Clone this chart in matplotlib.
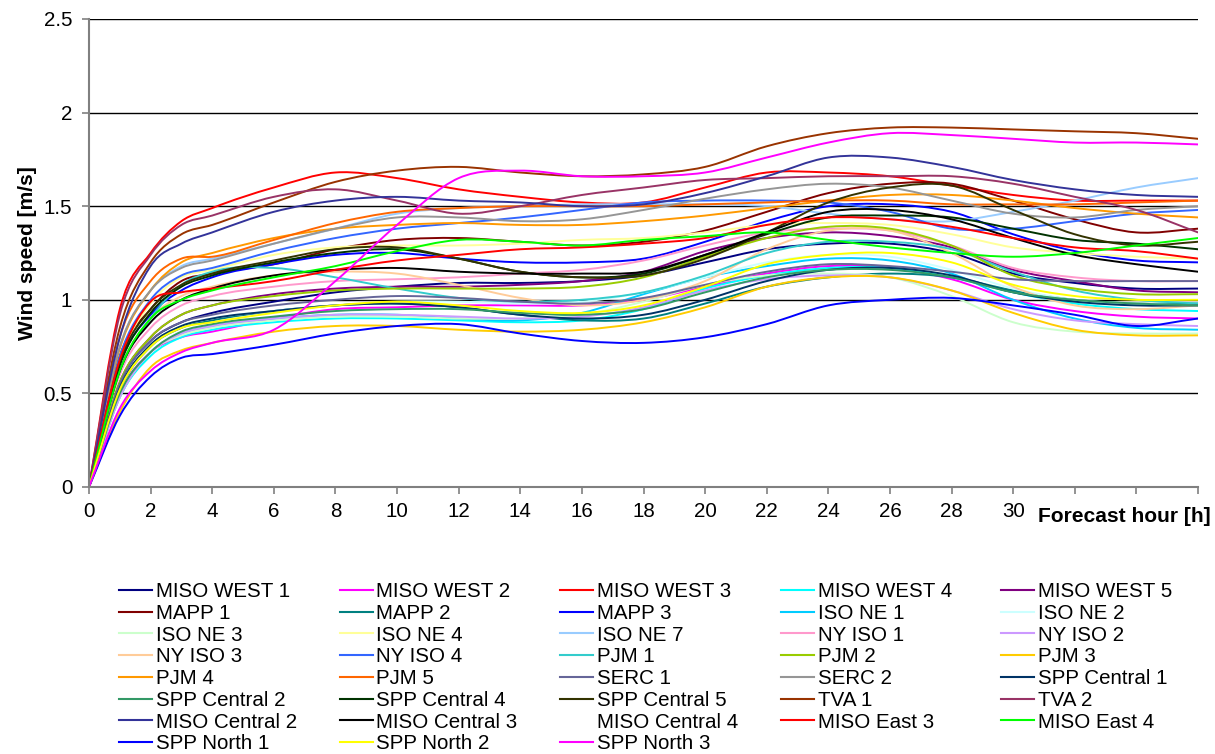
import numpy as np
import matplotlib
matplotlib.use('Agg')
import matplotlib.pyplot as plt
from matplotlib.path import Path
from matplotlib.patches import PathPatch
from matplotlib.lines import Line2D

plt.rcParams['font.family'] = ['Liberation Sans', 'DejaVu Sans']
plt.rcParams['font.size'] = 14.8

# forecast hours at which the mean wind speed is given
hours = [0, 1, 2, 3, 4, 6, 8, 10, 12, 14, 16, 18, 20, 22, 24, 26, 28, 30, 32, 34, 36]

miso_west_1 = [0, 0.55, 0.78, 0.88, 0.93, 0.99, 1.04, 1.07, 1.09, 1.09, 1.10, 1.13, 1.20, 1.27, 1.30, 1.30, 1.25, 1.14, 1.09, 1.06, 1.06]
miso_west_2 = [0, 0.50, 0.72, 0.80, 0.83, 0.90, 0.95, 0.96, 0.97, 0.97, 0.97, 1.00, 1.07, 1.14, 1.18, 1.17, 1.11, 1.00, 0.94, 0.91, 0.90]
miso_west_3 = [0, 0.95, 1.25, 1.42, 1.49, 1.60, 1.68, 1.65, 1.59, 1.55, 1.52, 1.52, 1.60, 1.68, 1.68, 1.66, 1.61, 1.56, 1.53, 1.53, 1.53]
miso_west_4 = [0, 0.48, 0.70, 0.80, 0.84, 0.88, 0.90, 0.90, 0.89, 0.88, 0.89, 0.95, 1.06, 1.13, 1.17, 1.17, 1.12, 1.04, 0.98, 0.95, 0.94]
miso_west_5 = [0, 0.56, 0.80, 0.92, 0.97, 1.03, 1.06, 1.07, 1.07, 1.08, 1.10, 1.15, 1.26, 1.33, 1.36, 1.34, 1.28, 1.16, 1.10, 1.05, 1.04]
mapp_1 = [0, 0.70, 0.95, 1.10, 1.14, 1.19, 1.27, 1.32, 1.33, 1.31, 1.29, 1.31, 1.37, 1.47, 1.57, 1.62, 1.62, 1.53, 1.43, 1.36, 1.38]
mapp_2 = [0, 0.52, 0.75, 0.85, 0.89, 0.94, 0.97, 0.98, 0.96, 0.92, 0.89, 0.90, 0.98, 1.07, 1.12, 1.14, 1.12, 1.05, 1.00, 0.98, 0.98]
mapp_3 = [0, 0.66, 0.92, 1.05, 1.12, 1.19, 1.24, 1.25, 1.22, 1.20, 1.20, 1.22, 1.31, 1.42, 1.50, 1.51, 1.47, 1.35, 1.26, 1.21, 1.20]
iso_ne_1 = [0, 0.48, 0.72, 0.82, 0.86, 0.90, 0.92, 0.92, 0.90, 0.89, 0.93, 1.03, 1.12, 1.18, 1.22, 1.21, 1.14, 1.00, 0.90, 0.85, 0.84]
iso_ne_2 = [0, 0.53, 0.76, 0.86, 0.90, 0.94, 0.97, 0.99, 0.99, 0.98, 0.99, 1.04, 1.12, 1.20, 1.24, 1.23, 1.16, 1.06, 1.00, 0.98, 0.97]
iso_ne_3 = [0, 0.48, 0.72, 0.81, 0.85, 0.89, 0.91, 0.91, 0.90, 0.90, 0.92, 0.99, 1.08, 1.13, 1.14, 1.12, 1.02, 0.88, 0.83, 0.82, 0.82]
iso_ne_4 = [0, 0.68, 0.98, 1.12, 1.16, 1.24, 1.28, 1.29, 1.29, 1.30, 1.32, 1.33, 1.36, 1.40, 1.41, 1.40, 1.35, 1.28, 1.25, 1.23, 1.22]
iso_ne_7 = [0, 0.75, 1.05, 1.18, 1.22, 1.30, 1.38, 1.46, 1.49, 1.50, 1.51, 1.51, 1.51, 1.50, 1.46, 1.43, 1.42, 1.47, 1.53, 1.60, 1.65]
ny_iso_1 = [0, 0.60, 0.85, 0.97, 1.02, 1.07, 1.10, 1.11, 1.12, 1.14, 1.16, 1.21, 1.29, 1.36, 1.38, 1.37, 1.29, 1.17, 1.12, 1.10, 1.10]
ny_iso_2 = [0, 0.48, 0.72, 0.82, 0.86, 0.90, 0.92, 0.92, 0.91, 0.90, 0.91, 0.96, 1.05, 1.11, 1.13, 1.12, 1.05, 0.95, 0.89, 0.87, 0.86]
ny_iso_3 = [0, 0.62, 0.90, 1.02, 1.07, 1.13, 1.15, 1.14, 1.08, 1.01, 0.97, 1.00, 1.10, 1.27, 1.37, 1.37, 1.25, 1.07, 0.97, 0.95, 0.97]
ny_iso_4 = [0, 0.70, 1.00, 1.13, 1.17, 1.26, 1.33, 1.38, 1.41, 1.44, 1.48, 1.52, 1.53, 1.53, 1.52, 1.47, 1.38, 1.38, 1.42, 1.46, 1.48]
pjm_1 = [0, 0.62, 0.90, 1.08, 1.15, 1.17, 1.12, 1.06, 1.01, 0.99, 1.00, 1.04, 1.13, 1.25, 1.31, 1.31, 1.27, 1.15, 1.05, 1.00, 0.98]
pjm_2 = [0, 0.56, 0.80, 0.92, 0.97, 1.02, 1.05, 1.06, 1.06, 1.06, 1.07, 1.12, 1.23, 1.33, 1.39, 1.38, 1.29, 1.13, 1.06, 1.03, 1.03]
pjm_3 = [0, 0.40, 0.64, 0.73, 0.77, 0.83, 0.86, 0.86, 0.84, 0.83, 0.84, 0.88, 0.96, 1.07, 1.12, 1.12, 1.05, 0.93, 0.84, 0.81, 0.81]
pjm_4 = [0, 0.74, 1.05, 1.20, 1.25, 1.33, 1.38, 1.40, 1.41, 1.40, 1.40, 1.42, 1.45, 1.49, 1.53, 1.56, 1.56, 1.53, 1.49, 1.46, 1.44]
pjm_5 = [0, 0.80, 1.10, 1.22, 1.23, 1.32, 1.41, 1.47, 1.49, 1.50, 1.50, 1.50, 1.51, 1.52, 1.53, 1.53, 1.51, 1.51, 1.51, 1.52, 1.53]
serc_1 = [0, 0.55, 0.78, 0.88, 0.92, 0.97, 1.00, 1.02, 1.01, 0.99, 0.98, 1.01, 1.08, 1.15, 1.19, 1.18, 1.15, 1.11, 1.10, 1.10, 1.10]
serc_2 = [0, 0.75, 1.05, 1.17, 1.21, 1.30, 1.38, 1.44, 1.44, 1.42, 1.43, 1.48, 1.54, 1.59, 1.62, 1.60, 1.53, 1.46, 1.44, 1.48, 1.50]
spp_central_1 = [0, 0.53, 0.76, 0.86, 0.90, 0.94, 0.97, 0.98, 0.96, 0.92, 0.90, 0.92, 1.00, 1.10, 1.16, 1.17, 1.13, 1.04, 0.99, 0.97, 0.97]
spp_central_2 = [0, 0.50, 0.72, 0.83, 0.87, 0.91, 0.94, 0.95, 0.95, 0.93, 0.92, 0.95, 1.04, 1.12, 1.16, 1.16, 1.12, 1.04, 1.00, 0.98, 0.97]
spp_central_4 = [0, 0.65, 0.93, 1.07, 1.13, 1.20, 1.25, 1.27, 1.22, 1.15, 1.12, 1.14, 1.24, 1.35, 1.44, 1.45, 1.44, 1.38, 1.32, 1.30, 1.27]
spp_central_5 = [0, 0.67, 0.95, 1.08, 1.14, 1.21, 1.27, 1.28, 1.22, 1.15, 1.12, 1.13, 1.22, 1.36, 1.52, 1.60, 1.61, 1.48, 1.35, 1.29, 1.31]
tva_1 = [0, 0.85, 1.20, 1.35, 1.40, 1.52, 1.63, 1.69, 1.71, 1.68, 1.66, 1.67, 1.71, 1.82, 1.89, 1.92, 1.92, 1.91, 1.90, 1.89, 1.86]
tva_2 = [0, 0.92, 1.24, 1.40, 1.45, 1.55, 1.59, 1.53, 1.46, 1.50, 1.56, 1.60, 1.64, 1.65, 1.66, 1.66, 1.66, 1.62, 1.55, 1.48, 1.36]
miso_central_2 = [0, 0.80, 1.18, 1.30, 1.36, 1.47, 1.53, 1.55, 1.53, 1.52, 1.50, 1.51, 1.57, 1.66, 1.76, 1.76, 1.71, 1.64, 1.59, 1.56, 1.55]
miso_central_3 = [0, 0.62, 0.88, 1.00, 1.06, 1.13, 1.16, 1.17, 1.15, 1.14, 1.14, 1.15, 1.24, 1.36, 1.47, 1.48, 1.43, 1.33, 1.24, 1.19, 1.15]
miso_central_4 = []  # no values, shown only in the legend
miso_east_3 = [0, 0.68, 0.99, 1.04, 1.06, 1.10, 1.16, 1.21, 1.24, 1.27, 1.28, 1.30, 1.33, 1.40, 1.44, 1.43, 1.39, 1.33, 1.28, 1.26, 1.22]
miso_east_4 = [0, 0.62, 0.90, 1.00, 1.05, 1.12, 1.18, 1.26, 1.32, 1.31, 1.29, 1.32, 1.34, 1.36, 1.32, 1.28, 1.25, 1.23, 1.25, 1.29, 1.33]
spp_north_1 = [0, 0.38, 0.59, 0.69, 0.71, 0.76, 0.82, 0.86, 0.87, 0.82, 0.78, 0.77, 0.80, 0.87, 0.97, 1.00, 1.01, 0.97, 0.92, 0.86, 0.90]
spp_north_2 = [0, 0.52, 0.75, 0.85, 0.88, 0.93, 0.97, 0.99, 0.97, 0.94, 0.93, 0.97, 1.07, 1.19, 1.24, 1.25, 1.20, 1.08, 1.02, 1.00, 1.00]
spp_north_3 = [0, 0.42, 0.62, 0.72, 0.77, 0.84, 1.10, 1.40, 1.65, 1.69, 1.66, 1.66, 1.68, 1.76, 1.84, 1.89, 1.88, 1.86, 1.84, 1.84, 1.83]

names = ['MISO WEST 1', 'MISO WEST 2', 'MISO WEST 3', 'MISO WEST 4', 'MISO WEST 5',
         'MAPP 1', 'MAPP 2', 'MAPP 3', 'ISO NE 1', 'ISO NE 2',
         'ISO NE 3', 'ISO NE 4', 'ISO NE 7', 'NY ISO 1', 'NY ISO 2',
         'NY ISO 3', 'NY ISO 4', 'PJM 1', 'PJM 2', 'PJM 3',
         'PJM 4', 'PJM 5', 'SERC 1', 'SERC 2', 'SPP Central 1',
         'SPP Central 2', 'SPP Central 4', 'SPP Central 5', 'TVA 1', 'TVA 2',
         'MISO Central 2', 'MISO Central 3', 'MISO Central 4', 'MISO East 3', 'MISO East 4',
         'SPP North 1', 'SPP North 2', 'SPP North 3']

series = [miso_west_1, miso_west_2, miso_west_3, miso_west_4, miso_west_5,
          mapp_1, mapp_2, mapp_3, iso_ne_1, iso_ne_2,
          iso_ne_3, iso_ne_4, iso_ne_7, ny_iso_1, ny_iso_2,
          ny_iso_3, ny_iso_4, pjm_1, pjm_2, pjm_3,
          pjm_4, pjm_5, serc_1, serc_2, spp_central_1,
          spp_central_2, spp_central_4, spp_central_5, tva_1, tva_2,
          miso_central_2, miso_central_3, miso_central_4, miso_east_3, miso_east_4,
          spp_north_1, spp_north_2, spp_north_3]

colors = ['#000080', '#FF00FF', '#FF0000', '#00FFFF', '#800080',
          '#800000', '#008080', '#0000FF', '#00CCFF', '#CCFFFF',
          '#CCFFCC', '#FFFF99', '#99CCFF', '#FF99CC', '#CC99FF',
          '#FFCC99', '#3366FF', '#33CCCC', '#99CC00', '#FFCC00',
          '#FF9900', '#FF6600', '#666699', '#969696', '#003366',
          '#339966', '#003300', '#333300', '#993300', '#993366',
          '#333399', '#000000', 'none', '#FF0000', '#00FF00',
          '#0000FF', '#FFFF00', '#FF00FF']

W, H = 1215, 754


def smooth_path(x, y):
    # cubic bezier through every point, tangents from the neighbours
    x = np.asarray(x, float)
    y = np.asarray(y, float)
    m = np.gradient(y, x)
    verts = [(x[0], y[0])]
    codes = [Path.MOVETO]
    for i in range(len(x) - 1):
        d = (x[i + 1] - x[i]) / 3.0
        verts += [(x[i] + d, y[i] + m[i] * d),
                  (x[i + 1] - d, y[i + 1] - m[i + 1] * d),
                  (x[i + 1], y[i + 1])]
        codes += [Path.CURVE4] * 3
    return Path(verts, codes)


def main():
    fig = plt.figure(figsize=(W / 100, H / 100), dpi=100)
    ax = fig.add_axes([89 / W, 1 - 487 / H, (1198 - 89) / W, (487 - 19) / H])

    for vals, col in zip(series, colors):
        if len(vals):
            ax.add_patch(PathPatch(smooth_path(hours, vals), fill=False,
                                   edgecolor=col, lw=1.4, capstyle='round'))

    ax.set_xlim(0, 36)
    ax.set_ylim(0, 2.5)
    xt = np.arange(0, 37, 2)
    ax.set_xticks(xt)
    ax.set_xticklabels([str(t) if t <= 30 else '' for t in xt])
    ax.set_yticks([0, 0.5, 1, 1.5, 2, 2.5])
    ax.set_yticklabels(['0', '0.5', '1', '1.5', '2', '2.5'])
    ax.yaxis.grid(True, color='black', lw=1)
    ax.set_axisbelow(True)
    for s in ['top', 'right']:
        ax.spines[s].set_visible(False)
    for s in ['left', 'bottom']:
        ax.spines[s].set_color('#808080')
        ax.spines[s].set_linewidth(1.5)
    ax.tick_params(axis='both', colors='#808080', labelcolor='black', width=1.2, length=5)
    ax.tick_params(axis='y', pad=7)
    ax.tick_params(axis='x', pad=6)

    ax.set_ylabel('Wind speed [m/s]', fontweight='bold', fontsize=15.1, labelpad=5)
    fig.text(1038 / W, 1 - 517 / H, 'Forecast hour [h]', fontweight='bold',
             fontsize=15.1, ha='left', va='center')

    # legend: 5 equal columns, filled row by row
    col_x = 119
    col_w = 220.5
    row_y = 590
    row_h = 21.7
    for k, (name, col) in enumerate(zip(names, colors)):
        r, c = divmod(k, 5)
        x0 = col_x + c * col_w
        y0 = row_y + r * row_h
        fig.add_artist(Line2D([x0 / W, (x0 + 33) / W], [1 - y0 / H, 1 - y0 / H],
                              color=col, lw=1.5))
        fig.text((x0 + 37) / W, 1 - (y0 + 7.4) / H, name, ha='left', va='baseline')

    fig.savefig('out.png', dpi=100)


if __name__ == "__main__":
    main()
